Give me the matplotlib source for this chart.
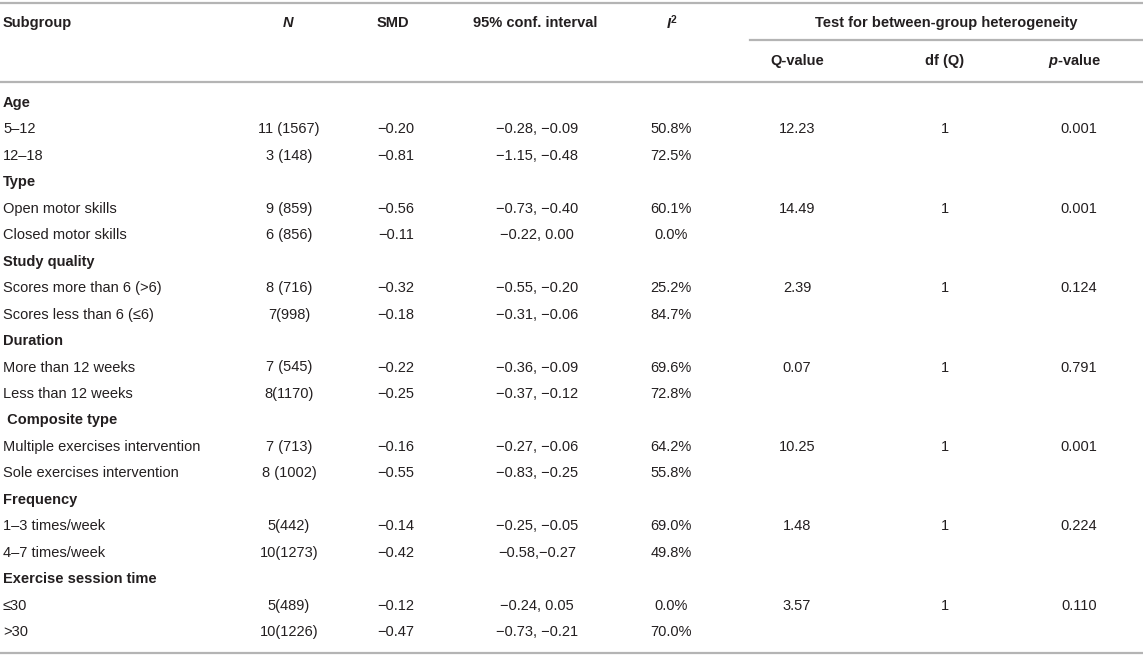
import matplotlib.pyplot as plt

plt.rcParams['font.family'] = ['Liberation Sans', 'DejaVu Sans']
plt.rcParams['mathtext.fontset'] = 'custom'
plt.rcParams['mathtext.it'] = 'Liberation Sans:italic:bold'
plt.rcParams['mathtext.rm'] = 'Liberation Sans:bold'
plt.rcParams['mathtext.bf'] = 'Liberation Sans:bold'

groups = ['Age', 'Type', 'Study quality', 'Duration', ' Composite type',
          'Frequency', 'Exercise session time']
subgroups = ['5–12', '12–18',
             'Open motor skills', 'Closed motor skills',
             'Scores more than 6 (>6)', 'Scores less than 6 (≤6)',
             'More than 12 weeks', 'Less than 12 weeks',
             'Multiple exercises intervention', 'Sole exercises intervention',
             '1–3 times/week', '4–7 times/week',
             '≤30', '>30']
n_vals = ['11 (1567)', '3 (148)', '9 (859)', '6 (856)', '8 (716)', '7(998)',
          '7 (545)', '8(1170)', '7 (713)', '8 (1002)', '5(442)', '10(1273)',
          '5(489)', '10(1226)']
smd = ['−0.20', '−0.81', '−0.56', '−0.11', '−0.32', '−0.18', '−0.22',
       '−0.25', '−0.16', '−0.55', '−0.14', '−0.42', '−0.12', '−0.47']
ci = ['−0.28, −0.09', '−1.15, −0.48', '−0.73, −0.40', '−0.22, 0.00',
      '−0.55, −0.20', '−0.31, −0.06', '−0.36, −0.09', '−0.37, −0.12',
      '−0.27, −0.06', '−0.83, −0.25', '−0.25, −0.05', '−0.58,−0.27',
      '−0.24, 0.05', '−0.73, −0.21']
i2 = ['50.8%', '72.5%', '60.1%', '0.0%', '25.2%', '84.7%', '69.6%',
      '72.8%', '64.2%', '55.8%', '69.0%', '49.8%', '0.0%', '70.0%']
q_vals = ['12.23', '14.49', '2.39', '0.07', '10.25', '1.48', '3.57']
df_q = ['1', '1', '1', '1', '1', '1', '1']
p_vals = ['0.001', '0.001', '0.124', '0.791', '0.001', '0.224', '0.110']

txt = '#231f20'
line = '#b4b4b4'
fs = 10.5

fig = plt.figure(figsize=(11.43, 6.56), dpi=100)
ax = fig.add_axes([0, 0, 1, 1])
ax.set_xlim(0, 1143)
ax.set_ylim(656, 0)
ax.axis('off')

# column centres
xn, xsmd, xci, xi2, xq, xdf, xp = 289, 396, 537, 671, 797, 945, 1079

# rules
ax.plot([0, 1143], [3, 3], color=line, lw=1.6)
ax.plot([750, 1143], [40, 40], color=line, lw=1.6)
ax.plot([0, 1143], [82, 82], color=line, lw=1.6)
ax.plot([0, 1143], [653, 653], color=line, lw=1.6)

# header
hy = 23
ax.text(3, hy, 'Subgroup', ha='left', va='center', fontsize=fs, fontweight='bold', color=txt)
ax.text(xn - 1, hy, 'N', ha='center', va='center', fontsize=fs, fontweight='bold',
        style='italic', color=txt)
ax.text(xsmd - 3, hy, 'SMD', ha='center', va='center', fontsize=fs, fontweight='bold', color=txt)
ax.text(xci - 2, hy, '95% conf. interval', ha='center', va='center', fontsize=fs,
        fontweight='bold', color=txt)
ax.text(xi2 + 1, hy, r'$I^2$', ha='center', va='center', fontsize=fs, color=txt)
ax.text(946, hy, 'Test for between-group heterogeneity', ha='center', va='center',
        fontsize=fs, fontweight='bold', color=txt)
sy = 61
ax.text(xq, sy, 'Q-value', ha='center', va='center', fontsize=fs, fontweight='bold', color=txt)
ax.text(xdf, sy, 'df (Q)', ha='center', va='center', fontsize=fs, fontweight='bold', color=txt)
ax.text(xp - 4, sy, r'$p$-value', ha='center', va='center', fontsize=fs,
        fontweight='bold', color=txt)

# body
y0 = 103
step = 26.45
row = 0
for g, name in enumerate(groups):
    y = y0 + row * step
    ax.text(3, y, name, ha='left', va='center', fontsize=fs, fontweight='bold', color=txt)
    row += 1
    for k in range(2):
        i = 2 * g + k
        y = y0 + row * step
        ax.text(3, y, subgroups[i], ha='left', va='center', fontsize=fs, color=txt)
        ax.text(xn, y, n_vals[i], ha='center', va='center', fontsize=fs, color=txt)
        ax.text(xsmd, y, smd[i], ha='center', va='center', fontsize=fs, color=txt)
        ax.text(xci, y, ci[i], ha='center', va='center', fontsize=fs, color=txt)
        ax.text(xi2, y, i2[i], ha='center', va='center', fontsize=fs, color=txt)
        if k == 0:
            ax.text(xq, y, q_vals[g], ha='center', va='center', fontsize=fs, color=txt)
            ax.text(xdf, y, df_q[g], ha='center', va='center', fontsize=fs, color=txt)
            ax.text(xp, y, p_vals[g], ha='center', va='center', fontsize=fs, color=txt)
        row += 1

fig.savefig('out.png', dpi=100)
